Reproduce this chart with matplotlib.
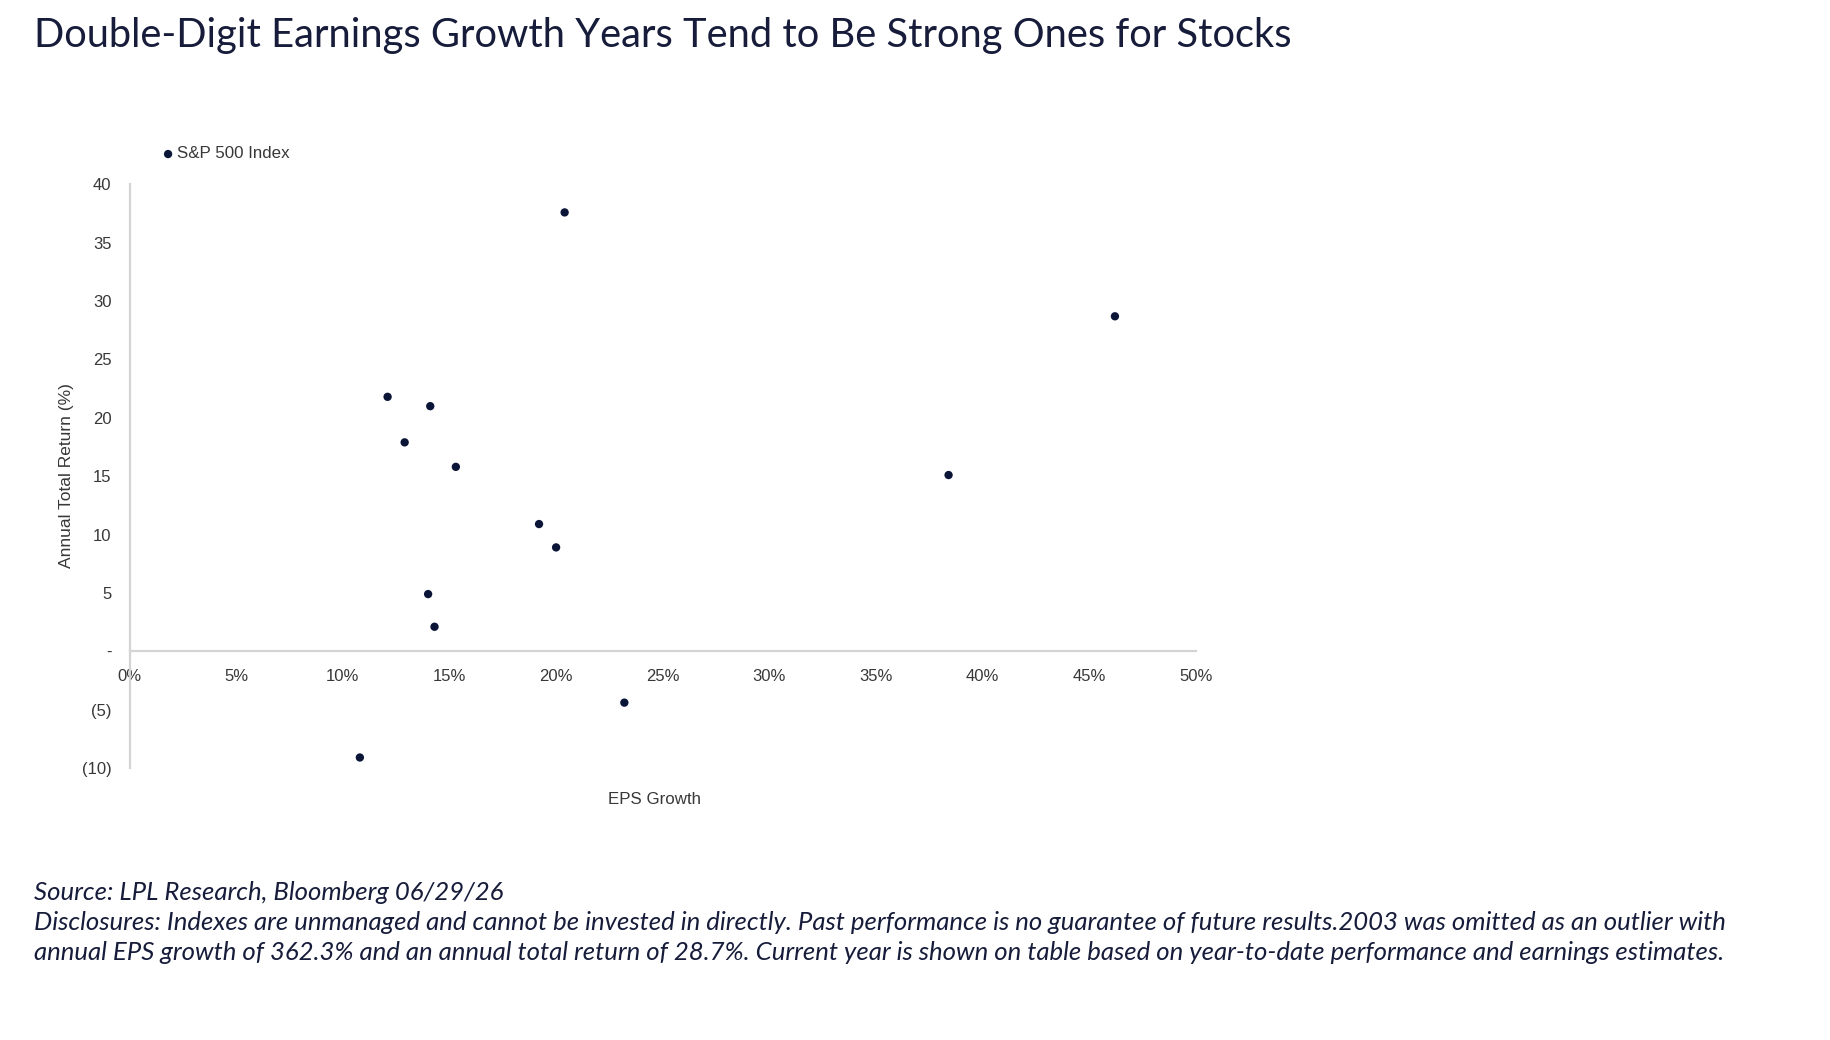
import matplotlib
matplotlib.use("Agg")
import matplotlib.pyplot as plt
from matplotlib.ticker import FuncFormatter, MultipleLocator

# EPS growth (%) vs annual total return (%) for double-digit EPS growth years
eps_growth = [20.4, 46.2, 12.1, 14.1, 12.9, 15.3, 38.4, 19.2, 20.0, 14.0, 14.3, 23.2, 10.8]
total_return = [37.6, 28.7, 21.8, 21.0, 17.9, 15.8, 15.1, 10.9, 8.9, 4.9, 2.1, -4.4, -9.1]

series_name = "S&P 500 Index"
title = "Double-Digit Earnings Growth Years Tend to Be Strong Ones for Stocks"
x_label = "EPS Growth"
y_label = "Annual Total Return (%)"
source_note = "Source: LPL Research, Bloomberg 06/29/26"
disclosure_lines = [
    "Disclosures: Indexes are unmanaged and cannot be invested in directly. Past performance is no "
    "guarantee of future results.2003 was omitted as an outlier with",
    "annual EPS growth of 362.3% and an annual total return of 28.7%. Current year is shown on table "
    "based on year-to-date performance and earnings estimates.",
]

W, H = 1830, 1040
NAVY = "#0b1538"
TEXT_DARK = "#161c3a"
AXIS_GREY = "#d4d4d4"
TICK_GREY = "#383838"

fig = plt.figure(figsize=(W / 100, H / 100), dpi=100)
fig.patch.set_facecolor("white")


def fx(px):
    return px / W


def fy(py):
    return 1 - py / H


# axes placed so that x 0..50 and y 40..-10 line up with the reference
left, right, top, bottom = 129.5, 1196, 184.4, 768
ax = fig.add_axes([fx(left), fy(bottom), fx(right - left), (bottom - top) / H])
ax.set_xlim(0, 50)
ax.set_ylim(-10, 40)

ax.scatter(eps_growth, total_return, s=36, color=NAVY, zorder=3, label=series_name,
           edgecolors="none")

for side in ("top", "right"):
    ax.spines[side].set_visible(False)
ax.spines["bottom"].set_position(("data", 0))
for side in ("left", "bottom"):
    ax.spines[side].set_color(AXIS_GREY)
    ax.spines[side].set_linewidth(1.6)

ax.xaxis.set_major_locator(MultipleLocator(5))
ax.yaxis.set_major_locator(MultipleLocator(5))
ax.xaxis.set_major_formatter(FuncFormatter(lambda v, _: f"{v:.0f}%"))


def acct(v, _):
    if abs(v) < 1e-9:
        return "-"
    if v < 0:
        return f"({-v:.0f})"
    return f"{v:.0f}"


ax.yaxis.set_major_formatter(FuncFormatter(acct))
ax.tick_params(axis="both", length=0, labelsize=12, labelcolor=TICK_GREY)
ax.tick_params(axis="x", pad=13)
ax.tick_params(axis="y", pad=13)
for lab in ax.get_xticklabels() + ax.get_yticklabels():
    lab.set_fontfamily("Liberation Sans")

ax.legend(loc="center left", bbox_to_anchor=(fx(163), fy(154)), bbox_transform=fig.transFigure,
          frameon=False, borderpad=0, borderaxespad=0, handlelength=0.6, handletextpad=0.25,
          scatterpoints=1, prop={"family": "Liberation Sans", "size": 12.2},
          labelcolor=TICK_GREY)

fig.text(fx(654), fy(799), x_label, ha="center", va="center", fontsize=12.2,
         color=TICK_GREY, family="Liberation Sans")
fig.text(fx(66), fy(476), y_label, ha="center", va="center", rotation=90, fontsize=12.5,
         color=TICK_GREY, family="Liberation Sans")

fig.text(fx(34), fy(35), title, ha="left", va="center", fontsize=28.7, color=TEXT_DARK,
         family="Lato")

fig.text(fx(34), fy(892), source_note, ha="left", va="center", fontsize=18.5, style="italic",
         color=TEXT_DARK, family="Lato")
for i, line in enumerate(disclosure_lines):
    fig.text(fx(34), fy(922 + 30.3 * i), line, ha="left", va="center", fontsize=18.5,
             style="italic", color=TEXT_DARK, family="Lato")

fig.savefig("out.png", dpi=100, facecolor="white")
